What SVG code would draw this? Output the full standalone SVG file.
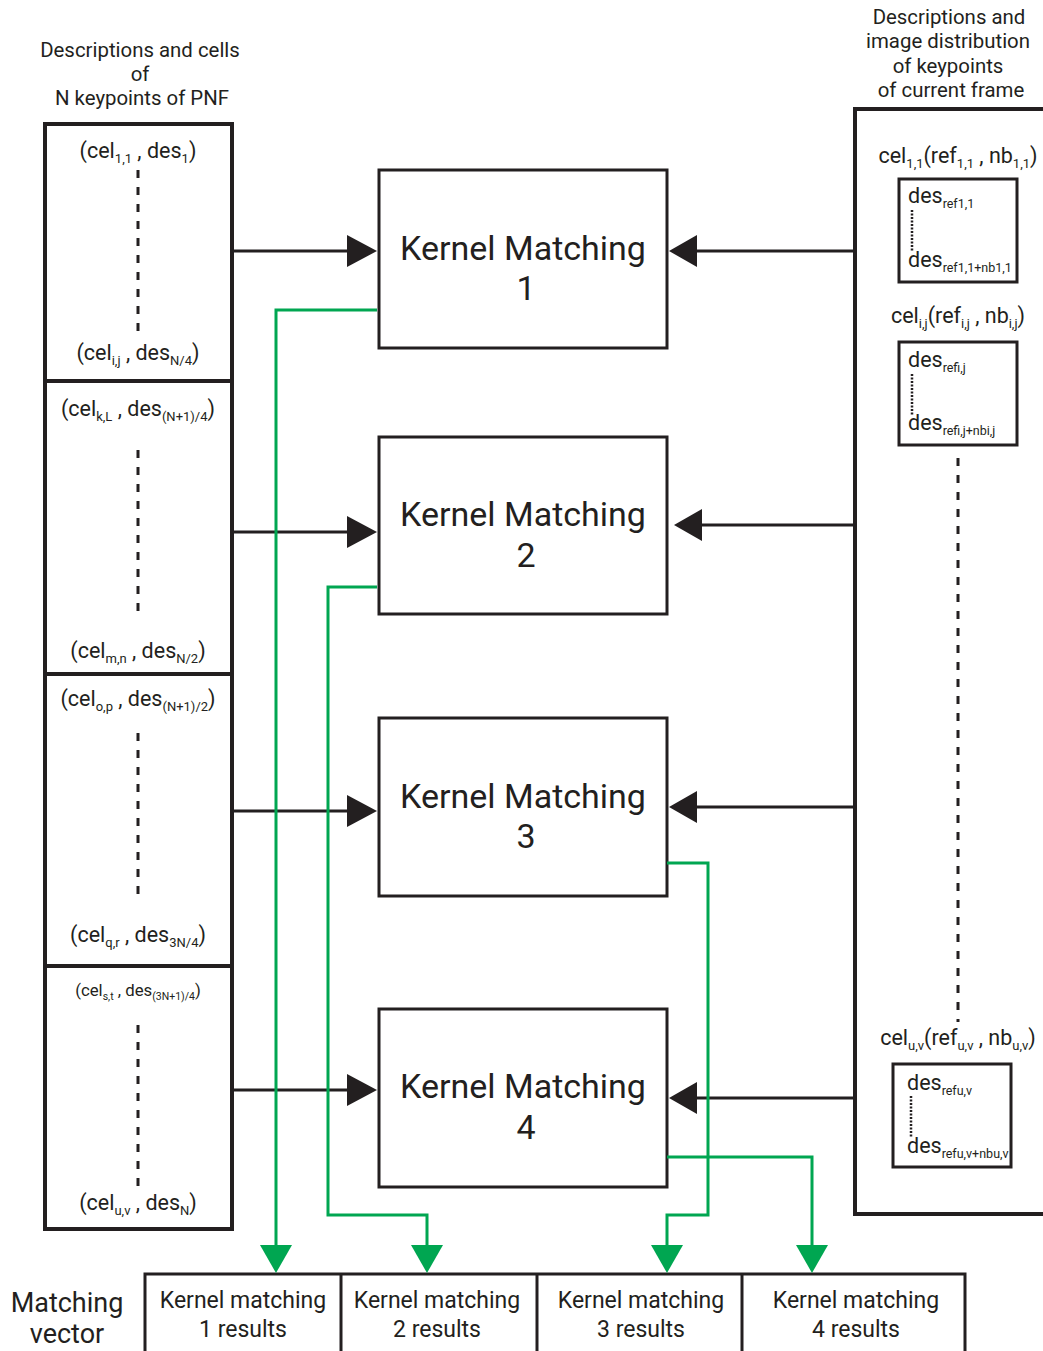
<svg xmlns="http://www.w3.org/2000/svg" width="1043" height="1351" viewBox="0 0 1043 1351">
<style>
text{font-family:Roboto,"Liberation Sans",sans-serif;fill:#231f20}
.t{font-size:21.5px}
.h{font-size:20.4px}
.km{font-size:34px}
.r{font-size:23px}
.box{fill:#fff;stroke:#231f20;stroke-width:3}
.col{fill:#fff;stroke:#231f20;stroke-width:4}
.dash{stroke:#231f20;stroke-width:3;stroke-dasharray:8 9;fill:none}
.dot{stroke:#231f20;stroke-width:2.5;stroke-dasharray:2 1.5;fill:none}
.blk{stroke:#231f20;stroke-width:3;fill:none}
.grn{stroke:#00a651;stroke-width:3;fill:none}
.ah{fill:#231f20}
.ag{fill:#00a651}
</style>
<rect width="1043" height="1351" fill="#fff"/>

<g id="left-header">
<text class="h" x="140" y="57" text-anchor="middle">Descriptions and cells</text>
<text class="h" x="140" y="81" text-anchor="middle">of</text>
<text class="h" x="142" y="105" text-anchor="middle">N keypoints of PNF</text>
</g>

<g id="left-sec1">
<rect class="col" x="45" y="124" width="187" height="257"/>
<text class="t" x="138" y="158" text-anchor="middle">(cel<tspan font-size="13" dy="5">1,1</tspan><tspan dy="-5"> , des</tspan><tspan font-size="13" dy="5">1</tspan><tspan dy="-5">)</tspan></text>
<line class="dash" x1="138" y1="170" x2="138" y2="334"/>
<text class="t" x="138" y="360" text-anchor="middle">(cel<tspan font-size="13" dy="5">i,j</tspan><tspan dy="-5"> , des</tspan><tspan font-size="13" dy="5">N/4</tspan><tspan dy="-5">)</tspan></text>
</g>
<g id="left-sec2">
<rect class="col" x="45" y="381" width="187" height="293"/>
<text class="t" x="138" y="416" text-anchor="middle">(cel<tspan font-size="13" dy="5">k,L</tspan><tspan dy="-5"> , des</tspan><tspan font-size="13" dy="5">(N+1)/4</tspan><tspan dy="-5">)</tspan></text>
<line class="dash" x1="138" y1="450" x2="138" y2="614"/>
<text class="t" x="138" y="658" text-anchor="middle">(cel<tspan font-size="13" dy="5">m,n</tspan><tspan dy="-5"> , des</tspan><tspan font-size="13" dy="5">N/2</tspan><tspan dy="-5">)</tspan></text>
</g>
<g id="left-sec3">
<rect class="col" x="45" y="674" width="187" height="292"/>
<text class="t" x="138" y="706" text-anchor="middle">(cel<tspan font-size="13" dy="5">o,p</tspan><tspan dy="-5"> , des</tspan><tspan font-size="13" dy="5">(N+1)/2</tspan><tspan dy="-5">)</tspan></text>
<line class="dash" x1="138" y1="733" x2="138" y2="897"/>
<text class="t" x="138" y="942" text-anchor="middle">(cel<tspan font-size="13" dy="5">q,r</tspan><tspan dy="-5"> , des</tspan><tspan font-size="13" dy="5">3N/4</tspan><tspan dy="-5">)</tspan></text>
</g>
<g id="left-sec4">
<rect class="col" x="45" y="966" width="187" height="263"/>
<text x="138" y="996" text-anchor="middle" font-size="16.8">(cel<tspan font-size="10.5" dy="4">s,t</tspan><tspan dy="-4"> , des</tspan><tspan font-size="10.5" dy="4">(3N+1)/4</tspan><tspan dy="-4">)</tspan></text>
<line class="dash" x1="138" y1="1025" x2="138" y2="1189"/>
<text class="t" x="138" y="1210" text-anchor="middle">(cel<tspan font-size="13" dy="5">u,v</tspan><tspan dy="-5"> , des</tspan><tspan font-size="13" dy="5">N</tspan><tspan dy="-5">)</tspan></text>
</g>

<g id="km1"><rect class="box" x="379" y="170" width="288" height="178"/>
<text class="km" x="523" y="260" text-anchor="middle">Kernel Matching</text>
<text class="km" x="526" y="300" text-anchor="middle">1</text></g>
<g id="km2"><rect class="box" x="379" y="437" width="288" height="177"/>
<text class="km" x="523" y="526" text-anchor="middle">Kernel Matching</text>
<text class="km" x="526" y="567" text-anchor="middle">2</text></g>
<g id="km3"><rect class="box" x="379" y="718" width="288" height="178"/>
<text class="km" x="523" y="808" text-anchor="middle">Kernel Matching</text>
<text class="km" x="526" y="848" text-anchor="middle">3</text></g>
<g id="km4"><rect class="box" x="379" y="1009" width="288" height="178"/>
<text class="km" x="523" y="1098" text-anchor="middle">Kernel Matching</text>
<text class="km" x="526" y="1139" text-anchor="middle">4</text></g>

<g id="right-header">
<text class="h" x="949" y="24" text-anchor="middle">Descriptions and</text>
<text class="h" x="948" y="48" text-anchor="middle">image distribution</text>
<text class="h" x="948" y="73" text-anchor="middle">of keypoints</text>
<text class="h" x="951" y="97" text-anchor="middle">of current frame</text>
</g>

<g id="right-frame">
<path d="M1045 109 H855 V1214 H1045" fill="#fff" stroke="#231f20" stroke-width="4"/>
<text class="t" x="958" y="163" text-anchor="middle">cel<tspan font-size="13" dy="5">1,1</tspan><tspan dy="-5">(ref</tspan><tspan font-size="13" dy="5">1,1</tspan><tspan dy="-5"> , nb</tspan><tspan font-size="13" dy="5">1,1</tspan><tspan dy="-5">)</tspan></text>
<rect class="box" x="899" y="179" width="118" height="103"/>
<text class="t" x="908" y="203">des<tspan font-size="12.5" dy="5">ref1,1</tspan></text>
<line class="dot" x1="912" y1="210" x2="912" y2="252"/>
<text class="t" x="908" y="267">des<tspan font-size="12.5" dy="5">ref1,1+nb1,1</tspan></text>

<text class="t" x="958" y="323" text-anchor="middle">cel<tspan font-size="13" dy="5">i,j</tspan><tspan dy="-5">(ref</tspan><tspan font-size="13" dy="5">i,j</tspan><tspan dy="-5"> , nb</tspan><tspan font-size="13" dy="5">i,j</tspan><tspan dy="-5">)</tspan></text>
<rect class="box" x="899" y="342" width="118" height="103"/>
<text class="t" x="908" y="367">des<tspan font-size="12.5" dy="5">refi,j</tspan></text>
<line class="dot" x1="912" y1="374" x2="912" y2="416"/>
<text class="t" x="908" y="430">des<tspan font-size="12.5" dy="5">refi,j+nbi,j</tspan></text>

<line class="dash" x1="958" y1="458" x2="958" y2="1022"/>

<text class="t" x="958" y="1045" text-anchor="middle">cel<tspan font-size="13" dy="5">u,v</tspan><tspan dy="-5">(ref</tspan><tspan font-size="13" dy="5">u,v</tspan><tspan dy="-5"> , nb</tspan><tspan font-size="13" dy="5">u,v</tspan><tspan dy="-5">)</tspan></text>
<rect class="box" x="893" y="1064" width="118" height="103"/>
<text class="t" x="907" y="1090">des<tspan font-size="12.5" dy="5">refu,v</tspan></text>
<line class="dot" x1="911" y1="1096" x2="911" y2="1138"/>
<text class="t" x="907" y="1153">des<tspan font-size="12.5" dy="5">refu,v+nbu,v</tspan></text>
</g>

<g id="results">
<text x="67" y="1312" text-anchor="middle" font-size="27">Matching</text>
<text x="67" y="1343" text-anchor="middle" font-size="27">vector</text>
<rect class="box" x="145" y="1274" width="820" height="90"/>
<line class="blk" x1="341" y1="1274" x2="341" y2="1351"/>
<line class="blk" x1="537" y1="1274" x2="537" y2="1351"/>
<line class="blk" x1="742" y1="1274" x2="742" y2="1351"/>
<text class="r" x="243" y="1308" text-anchor="middle">Kernel matching</text>
<text class="r" x="243" y="1337" text-anchor="middle">1 results</text>
<text class="r" x="437" y="1308" text-anchor="middle">Kernel matching</text>
<text class="r" x="437" y="1337" text-anchor="middle">2 results</text>
<text class="r" x="641" y="1308" text-anchor="middle">Kernel matching</text>
<text class="r" x="641" y="1337" text-anchor="middle">3 results</text>
<text class="r" x="856" y="1308" text-anchor="middle">Kernel matching</text>
<text class="r" x="856" y="1337" text-anchor="middle">4 results</text>
</g>

<g id="connectors">
<line class="blk" x1="232" y1="251" x2="350" y2="251"/><polygon class="ah" points="347,235 377,251 347,267"/>
<line class="blk" x1="232" y1="532" x2="350" y2="532"/><polygon class="ah" points="347,516 377,532 347,548"/>
<line class="blk" x1="232" y1="811" x2="350" y2="811"/><polygon class="ah" points="347,795 377,811 347,827"/>
<line class="blk" x1="232" y1="1090" x2="350" y2="1090"/><polygon class="ah" points="347,1074 377,1090 347,1106"/>

<line class="blk" x1="853" y1="251" x2="695" y2="251"/><polygon class="ah" points="697,235 669,251 697,267"/>
<line class="blk" x1="853" y1="525" x2="700" y2="525"/><polygon class="ah" points="702,509 674,525 702,541"/>
<line class="blk" x1="853" y1="807" x2="695" y2="807"/><polygon class="ah" points="697,791 669,807 697,823"/>
<line class="blk" x1="853" y1="1098" x2="695" y2="1098"/><polygon class="ah" points="697,1082 669,1098 697,1114"/>

<path class="grn" d="M377 310 H276 V1247"/><polygon class="ag" points="260,1245 292,1245 276,1273"/>
<path class="grn" d="M377 587 H328 V1215 H427 V1247"/><polygon class="ag" points="411,1245 443,1245 427,1273"/>
<path class="grn" d="M667 863 H708 V1215 H667 V1247"/><polygon class="ag" points="651,1245 683,1245 667,1273"/>
<path class="grn" d="M667 1157 H812 V1247"/><polygon class="ag" points="796,1245 828,1245 812,1273"/>
</g>
</svg>
